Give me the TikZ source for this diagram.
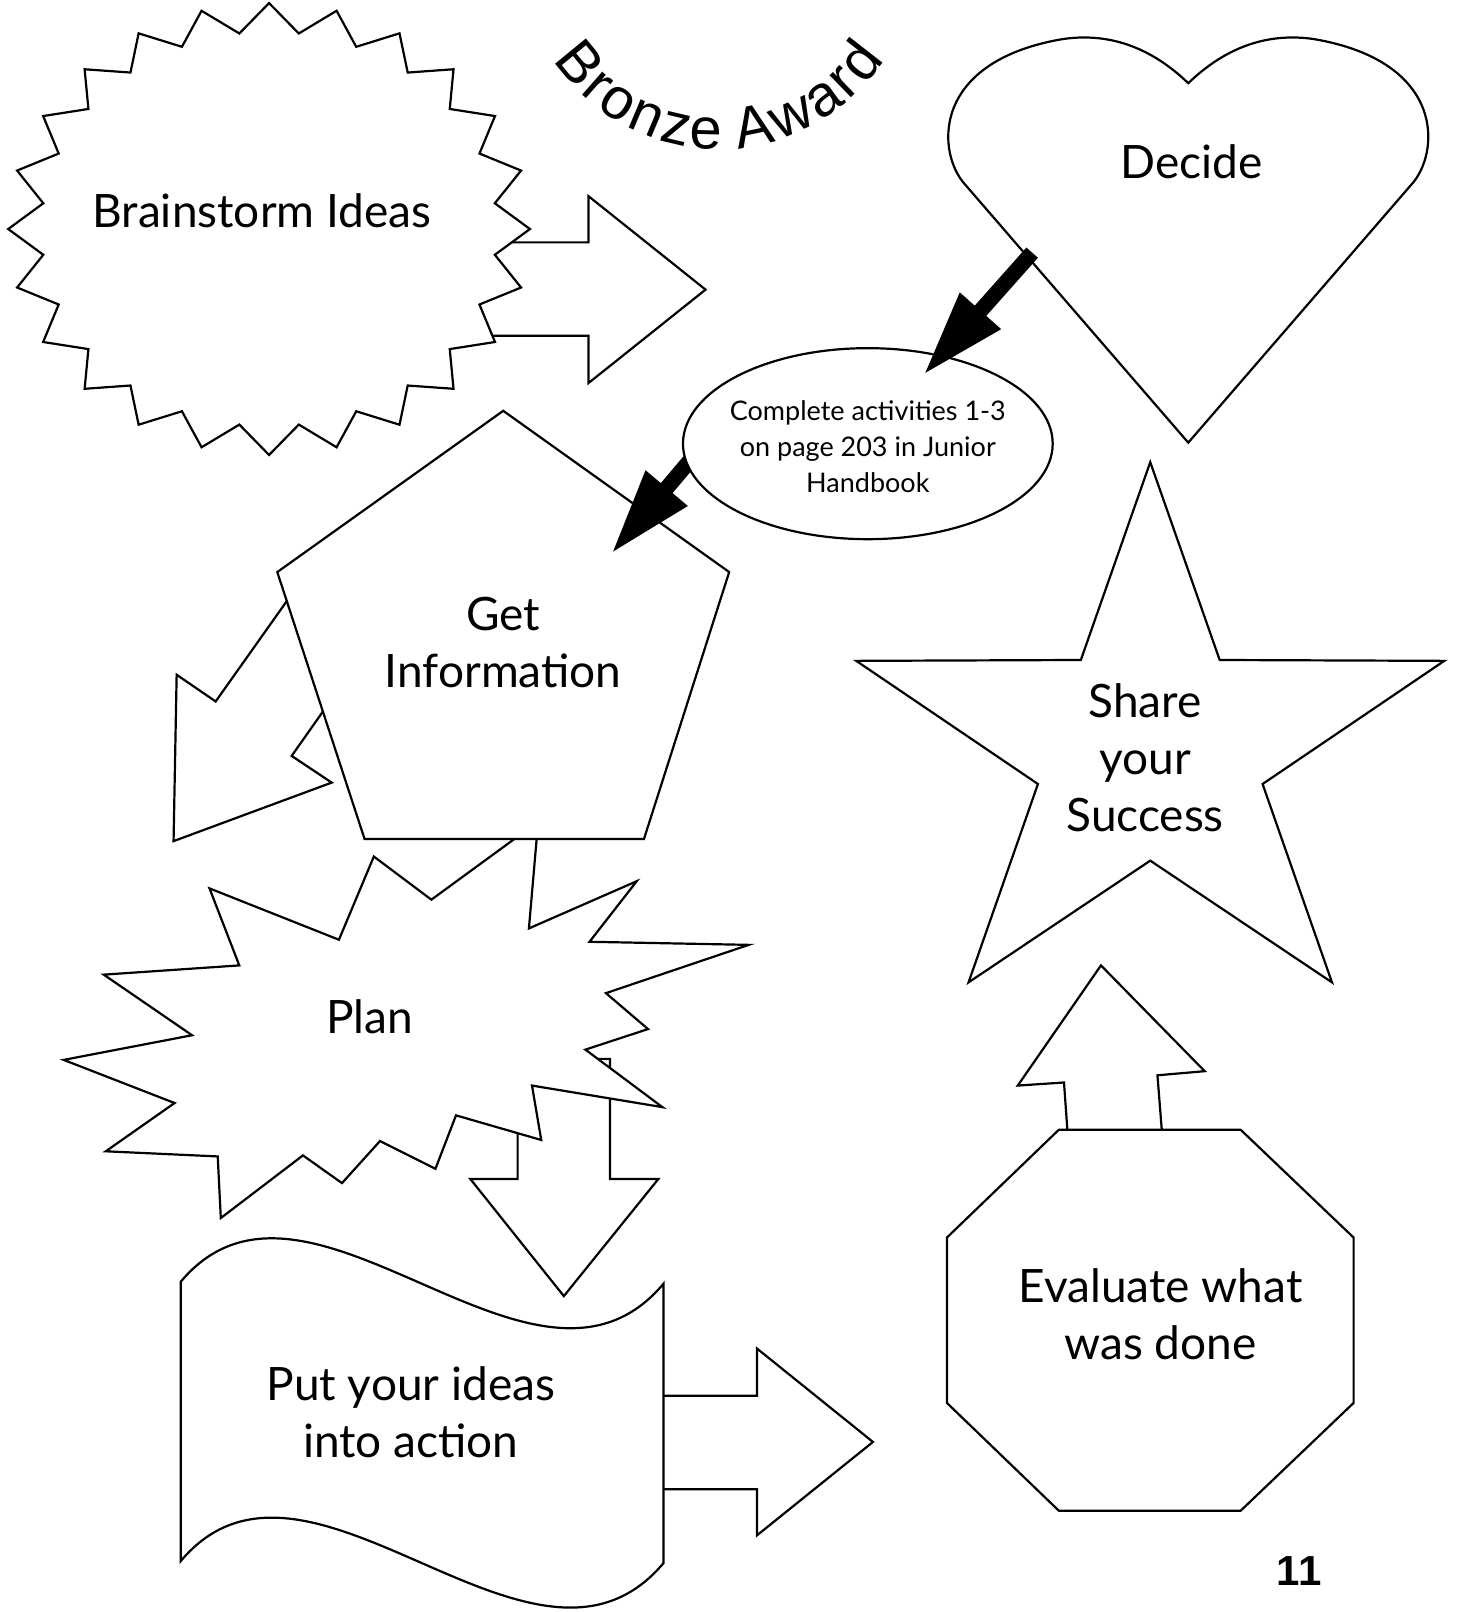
\documentclass[tikz,border=0pt]{standalone}
\usepackage{fontspec}
\setmainfont{Lato}
\newfontfamily\titlefont{Liberation Sans}
\newfontfamily\numfont{Liberation Sans}
\usetikzlibrary{calc,decorations.text}
\begin{document}
\begin{tikzpicture}[x=1.027pt,y=-1.027pt,
  shp/.style={draw=black,fill=white,line width=2.2pt,line join=miter},
  lbl/.style={inner sep=0pt,align=center,font=\fontsize{46}{57}\selectfont},
  small/.style={inner sep=0pt,align=center,font=\fontsize{27}{36}\selectfont},
  fat/.style={fill=black}]
\useasboundingbox (0,0) rectangle (1420.6,1569.6);
\fill[white] (0,0) rectangle (1420.6,1569.6);

% block arrow right of brainstorm
\draw[shp] (440,236) -- (573,236) -- (573,191) -- (687,282) -- (573,373) -- (573,327) -- (440,327) -- cycle;
% brainstorm starburst
\draw[shp] plot[domain=0:47,samples=48] ({262+254*(1-0.127*mod(round(\x),2))*sin(7.5*\x)},{223-220*(1-0.127*mod(round(\x),2))*cos(7.5*\x)}) -- cycle;

% heart
\draw[shp] (1157,431) -- (940,180) .. controls (912,150) and (905,60) .. (1035,38)
  .. controls (1090,30) and (1130,55) .. (1157,81)
  .. controls (1184,55) and (1224,30) .. (1279,38)
  .. controls (1409,60) and (1402,150) .. (1374,180) -- cycle;

% down block arrow (plan -> put)
\draw[shp] (504,1031) -- (594,1031) -- (594,1148) -- (641,1148) -- (549,1262) -- (458,1148) -- (504,1148) -- cycle;
% plan explosion
\draw[shp] (204,865) -- (330,915) -- (364,834) -- (420,876) -- (524,800) -- (515,904) -- (620,858) -- (574,917) -- (729,920) -- (590,967) -- (631,1002) -- (570,1022) -- (645,1078) -- (518,1057) -- (527,1110) -- (444,1086) -- (424,1138) -- (370,1111) -- (333,1152) -- (295,1125) -- (215,1186) -- (212,1126) -- (103,1121) -- (170,1074) -- (62,1032) -- (187,1008) -- (101,949) -- (233,940) -- cycle;
% down-left block arrow from pentagon
\draw[shp] (300,556) -- (210,683) -- (172,657) -- (169,819) -- (323,762) -- (284,736) -- (334,665) -- cycle;
% pentagon
\draw[shp] (490,400) -- (710,557) -- (627,817) -- (355,817) -- (270,557) -- cycle;

% black arrow ellipse -> pentagon
\coordinate (a2s) at (684,434);
\coordinate (a2t) at (597,537);
\coordinate (a2b) at ($(a2t)!83pt!(a2s)$);
\fill[fat] ($(a2s)!7.7pt!90:(a2t)$) -- ($(a2b)!7.7pt!-90:(a2s)$) -- ($(a2b)!27.7pt!-90:(a2s)$) -- (a2t) -- ($(a2b)!27.7pt!90:(a2s)$) -- ($(a2b)!7.7pt!90:(a2s)$) -- ($(a2s)!7.7pt!-90:(a2t)$) -- cycle;

% ellipse
\draw[shp] (845,432) ellipse [x radius=180, y radius=93];

% black arrow heart -> ellipse
\coordinate (a1s) at (1005,246);
\coordinate (a1t) at (901,363);
\coordinate (a1b) at ($(a1t)!83pt!(a1s)$);
\fill[fat] ($(a1s)!7.7pt!90:(a1t)$) -- ($(a1b)!7.7pt!-90:(a1s)$) -- ($(a1b)!27.7pt!-90:(a1s)$) -- (a1t) -- ($(a1b)!27.7pt!90:(a1s)$) -- ($(a1b)!7.7pt!90:(a1s)$) -- ($(a1s)!7.7pt!-90:(a1t)$) -- cycle;

% right block arrow from wave
\draw[shp] (600,1359) -- (737,1359) -- (737,1313) -- (850,1404) -- (737,1495) -- (737,1450) -- (600,1450) -- cycle;
% wave
\draw[shp] (176,1248) .. controls (300,1100) and (520,1400) .. (646,1250) -- (646,1522)
  .. controls (520,1672) and (300,1372) .. (176,1520) -- cycle;

% up block arrow
\draw[shp] (1040,1110) -- (1036,1054) -- (991,1057) -- (1072,940) -- (1173,1043) -- (1127,1047) -- (1132,1110) -- cycle;
% octagon
\draw[shp] (1031,1100) -- (1208,1100) -- (1318,1205) -- (1318,1366) -- (1208,1471) -- (1031,1471) -- (922,1366) -- (922,1205) -- cycle;
% star
\draw[shp] plot[domain=0:9,samples=10] ({1120+(301-186*mod(round(\x),2))*sin(36*\x)},{730-(280-172*mod(round(\x),2))*cos(36*\x)}) -- cycle;

% labels
\node[lbl] (tbrain) at (255,205) {Brainstorm Ideas};
\node[lbl] (tdecide) at (1160,157) {Decide};
\node[small] (tcomplete) at (845,435) {Complete activities 1-3\\on page 203 in Junior\\Handbook};
\node[lbl] (tget) at (490,626) {Get\\Information};
\node[lbl] (tplan) at (360,990) {Plan};
\node[lbl] (tput) at (400,1375) {Put your ideas\\into action};
\node[lbl] (tshare) at (1115,738) {Share\\your\\Success};
\node[lbl] (teval) at (1130,1280) {Evaluate what\\was done};
\node[inner sep=0pt,font=\numfont\bfseries\fontsize{42}{42}\selectfont] (tpage) at (1265,1530) {11};

% curved title
\path[decorate,decoration={text along path,text align=center,
  text={|\titlefont\fontsize{58}{58}\selectfont|{B\kern3pt}{r\kern3pt}{o\kern3pt}{n\kern3pt}{z\kern3pt}{e\kern3pt\kern14pt}{A\kern3pt}{w\kern3pt}{a\kern3pt}{r\kern3pt}d}}]
  (700,-48) ++(165:193) arc[start angle=165,end angle=15,radius=193];
\end{tikzpicture}
\end{document}
